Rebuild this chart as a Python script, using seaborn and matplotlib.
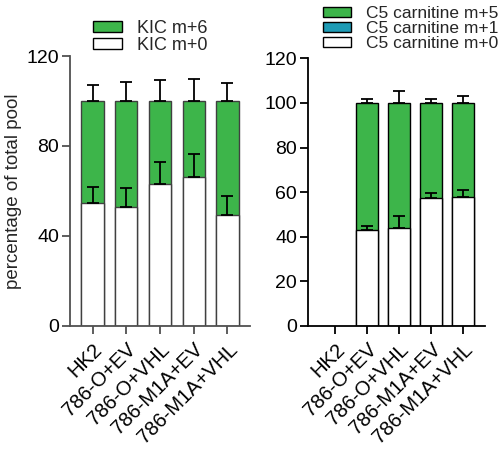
import matplotlib
matplotlib.use("Agg")
import matplotlib.pyplot as plt
import seaborn as sns
import pandas as pd
import numpy as np
from matplotlib.patches import Patch

sns.set_style("ticks")
plt.rcParams['font.family'] = ['Liberation Sans', 'DejaVu Sans']

groups = ["HK2", "786-O+EV", "786-O+VHL", "786-M1A+EV", "786-M1A+VHL"]

# Left panel: KIC
kic_m0 = [54.5, 52.7, 63.3, 66.2, 49.5]
kic_m0_err = [7.4, 8.8, 9.7, 10.2, 8.4]
kic_m6 = [45.5, 47.3, 36.7, 33.8, 50.5]
kic_m6_err = [7.1, 8.6, 9.5, 9.9, 8.1]

# Right panel: C5 carnitine (HK2 not detected)
c5_m0 = [np.nan, 43.0, 43.8, 57.5, 58.0]
c5_m0_err = [np.nan, 1.8, 5.4, 2.0, 3.0]
c5_m1 = [np.nan, 0.0, 0.0, 0.0, 0.0]
c5_m5 = [np.nan, 57.0, 56.2, 42.5, 42.0]
c5_m5_err = [np.nan, 1.8, 5.2, 1.8, 3.0]

GREEN = "#3db54a"
TEAL = "#1e9bb5"
W, H = 503, 451
fig = plt.figure(figsize=(W / 100, H / 100), dpi=100)

def px_axes(x0, x1, ytop, ybot):
    return fig.add_axes([x0 / W, (H - ybot) / H, (x1 - x0) / W, (ybot - ytop) / H])

axL = px_axes(70, 250, 56, 326)
axR = px_axes(308.3, 485, 58.3, 326)

def stacked(ax, m0, m0e, top, tope, mid=None, edge="black", width=0.66):
    m0 = np.array(m0, float)
    top = np.array(top, float)
    mid = np.zeros_like(m0) if mid is None else np.array(mid, float)
    total = m0 + mid + top
    df = pd.DataFrame({"g": groups, "m0": m0, "mid": m0 + mid, "tot": total})
    sns.barplot(data=df, x="g", y="tot", order=groups, color=GREEN, saturation=1,
                edgecolor=edge, linewidth=1.0, width=width, ax=ax, errorbar=None)
    if np.nansum(mid) > 0:
        sns.barplot(data=df, x="g", y="mid", order=groups, color=TEAL, saturation=1,
                    edgecolor=edge, linewidth=1.0, width=width, ax=ax, errorbar=None)
    sns.barplot(data=df, x="g", y="m0", order=groups, color="white", saturation=1,
                edgecolor=edge, linewidth=1.0, width=width, ax=ax, errorbar=None)
    xs = np.arange(len(groups))
    for y, e in ((m0, m0e), (total, tope)):
        e = np.array(e, float)
        ok = ~np.isnan(y)
        ax.errorbar(xs[ok], y[ok], yerr=[np.zeros(ok.sum()), e[ok]], fmt="none",
                    ecolor="black", elinewidth=1.3, capsize=4.5, capthick=1.3, zorder=5)

stacked(axL, kic_m0, kic_m0_err, kic_m6, kic_m6_err, edge="#404040", width=0.66)
stacked(axR, c5_m0, c5_m0_err, c5_m5, c5_m5_err, mid=c5_m1, edge="black", width=0.675)

axL.set_xlim(-0.67, 4.67)
axR.set_xlim(-0.83, 4.68)
axL.set_ylim(0, 120)
axR.set_ylim(0, 120)
axL.set_yticks([0, 40, 80, 120])
axR.set_yticks([0, 20, 40, 60, 80, 100, 120])

for ax, col in ((axL, "#505050"), (axR, "black")):
    sns.despine(ax=ax)
    for s in ("left", "bottom"):
        ax.spines[s].set_color(col)
        ax.spines[s].set_linewidth(1.3)
    ax.tick_params(axis="both", colors=col, width=1.3, length=6, labelcolor="black")
    ax.tick_params(axis="y", labelsize=14, pad=2)
    ax.set_xlabel("")
    ax.set_ylabel("")
    ax.set_xticks(range(len(groups)))
    ax.set_xticklabels(groups, rotation=45, ha="right", rotation_mode="anchor",
                       fontsize=14.5)
    ax.tick_params(axis="x", pad=4)

axL.set_ylabel("percentage of total pool", fontsize=13.5, labelpad=3)

legL = fig.legend(handles=[Patch(facecolor=GREEN, edgecolor="black", label="KIC m+6"),
                           Patch(facecolor="white", edgecolor="black", label="KIC m+0")],
                  loc="upper left", bbox_to_anchor=(93 / W, 1 - 20 / H), frameon=False,
                  fontsize=13, handlelength=1.6, handleheight=0.55, handletextpad=0.85,
                  labelspacing=0.0, borderaxespad=0, borderpad=0)
legR = fig.legend(handles=[Patch(facecolor=GREEN, edgecolor="black", label="C5 carnitine m+5"),
                           Patch(facecolor=TEAL, edgecolor="black", label="C5 carnitine m+1"),
                           Patch(facecolor="white", edgecolor="black", label="C5 carnitine m+0")],
                  loc="upper left", bbox_to_anchor=(323 / W, 1 - 6 / H), frameon=False,
                  fontsize=12.5, handlelength=1.6, handleheight=0.5, handletextpad=0.85,
                  labelspacing=0.0, borderaxespad=0, borderpad=0)

fig.savefig("out.png", dpi=100)
